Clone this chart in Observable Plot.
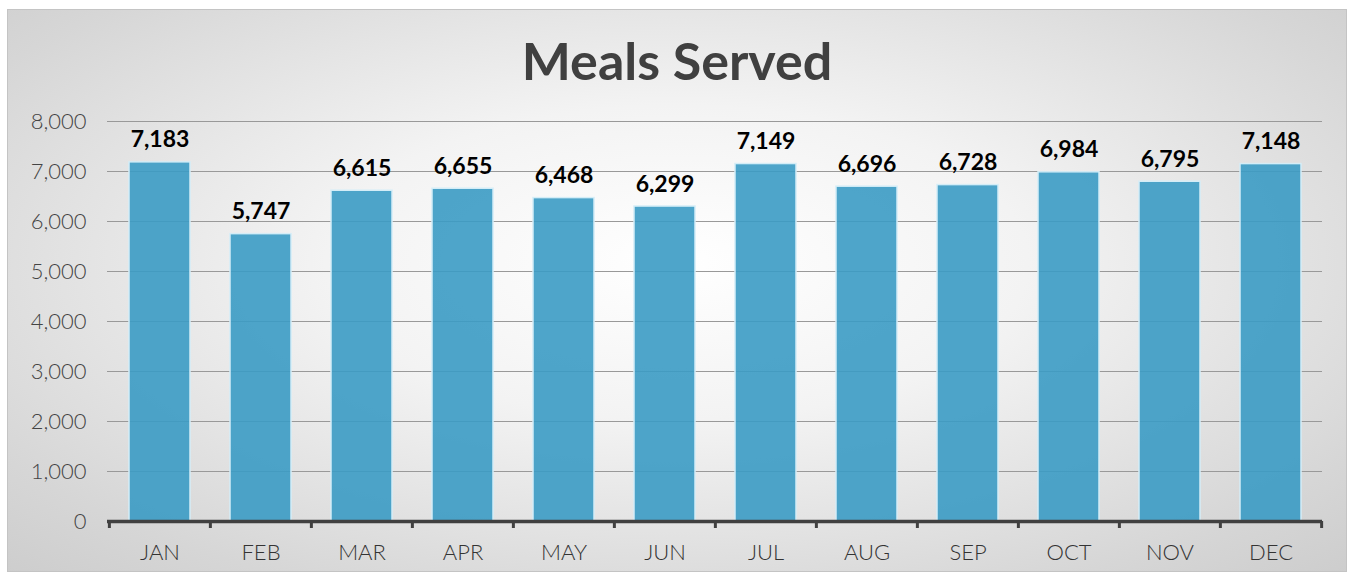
<!DOCTYPE html>
<html>
<head>
<meta charset="utf-8">
<script src="https://cdn.jsdelivr.net/npm/d3@7"></script>
<script src="https://cdn.jsdelivr.net/npm/@observablehq/plot@0.6"></script>
<style>
  html, body { margin: 0; padding: 0; background: #ffffff; }
  #panel {
    position: absolute; left: 7px; top: 9px; width: 1340px; height: 563px;
    box-sizing: border-box; border: 1px solid #c4c4c4;
    background: radial-gradient(ellipse 75% 80% at 50% 45%, #ffffff 0%, #f3f3f3 35%, #d6d6d6 80%, #cbcbcb 100%);
    font-family: Lato, "Open Sans", sans-serif;
  }
  #title {
    height: 90px; box-sizing: border-box; padding-top: 24px;
    text-align: center; font-size: 52px; font-weight: 700; color: #404040;
    line-height: 1;
  }
  #chart svg { display: block; }
</style>
</head>
<body>
<div id="panel">
  <div id="title">Meals Served</div>
  <div id="chart"></div>
</div>
<script>
const months = ["JAN","FEB","MAR","APR","MAY","JUN","JUL","AUG","SEP","OCT","NOV","DEC"];
const meals = [7183, 5747, 6615, 6655, 6468, 6299, 7149, 6696, 6728, 6984, 6795, 7148];
const yTicks = [0, 1000, 2000, 3000, 4000, 5000, 6000, 7000, 8000];

const data = months.map((m, i) => ({month: m, meals: meals[i]}));

const W = 1338, H = 471;
const mL = 99, mR = 24, mT = 21, mB = 50;
const step = (W - mL - mR) / months.length;

const plot = Plot.plot({
  width: W, height: H,
  marginLeft: mL, marginRight: mR, marginTop: mT, marginBottom: mB,
  style: {background: "transparent", fontFamily: "Lato, 'Open Sans', sans-serif"},
  x: {domain: months, paddingInner: 0.4, paddingOuter: 0.2, label: null},
  y: {domain: [0, 8000], label: null},
  marks: [
    Plot.gridY(yTicks.slice(1), {stroke: "#999999", strokeOpacity: 1, strokeWidth: 1}),
    Plot.axisY(yTicks, {tickSize: 0, tickPadding: 21, tickFormat: d3.format(","), fontSize: 22, fontWeight: 300, fill: "#444444", label: null}),
    Plot.axisX({tickSize: 0, tickPadding: 23, fontSize: 22, fontWeight: 300, fill: "#333333", label: null}),
    Plot.barY(data, {x: "month", y: "meals", fill: "#3b9bc4", fillOpacity: 0.9, stroke: "#d4edf7", strokeWidth: 1.5}),
    Plot.text(data, {x: "month", y: "meals", text: d => d3.format(",")(d.meals), lineAnchor: "bottom", dy: -15, fontSize: 23, fontWeight: "bold", fill: "#000000"}),
    Plot.ruleY([0], {stroke: "#404040", strokeWidth: 3.5}),
    Plot.ruleX(months, {x: d => d, y1: 0, y2: 0, dx: -step / 2, insetBottom: -7, stroke: "#404040", strokeWidth: 3}),
    Plot.ruleX([months[months.length - 1]], {x: d => d, y1: 0, y2: 0, dx: step / 2, insetBottom: -7, stroke: "#404040", strokeWidth: 3})
  ]
});
document.getElementById("chart").appendChild(plot);
</script>
</body>
</html>
